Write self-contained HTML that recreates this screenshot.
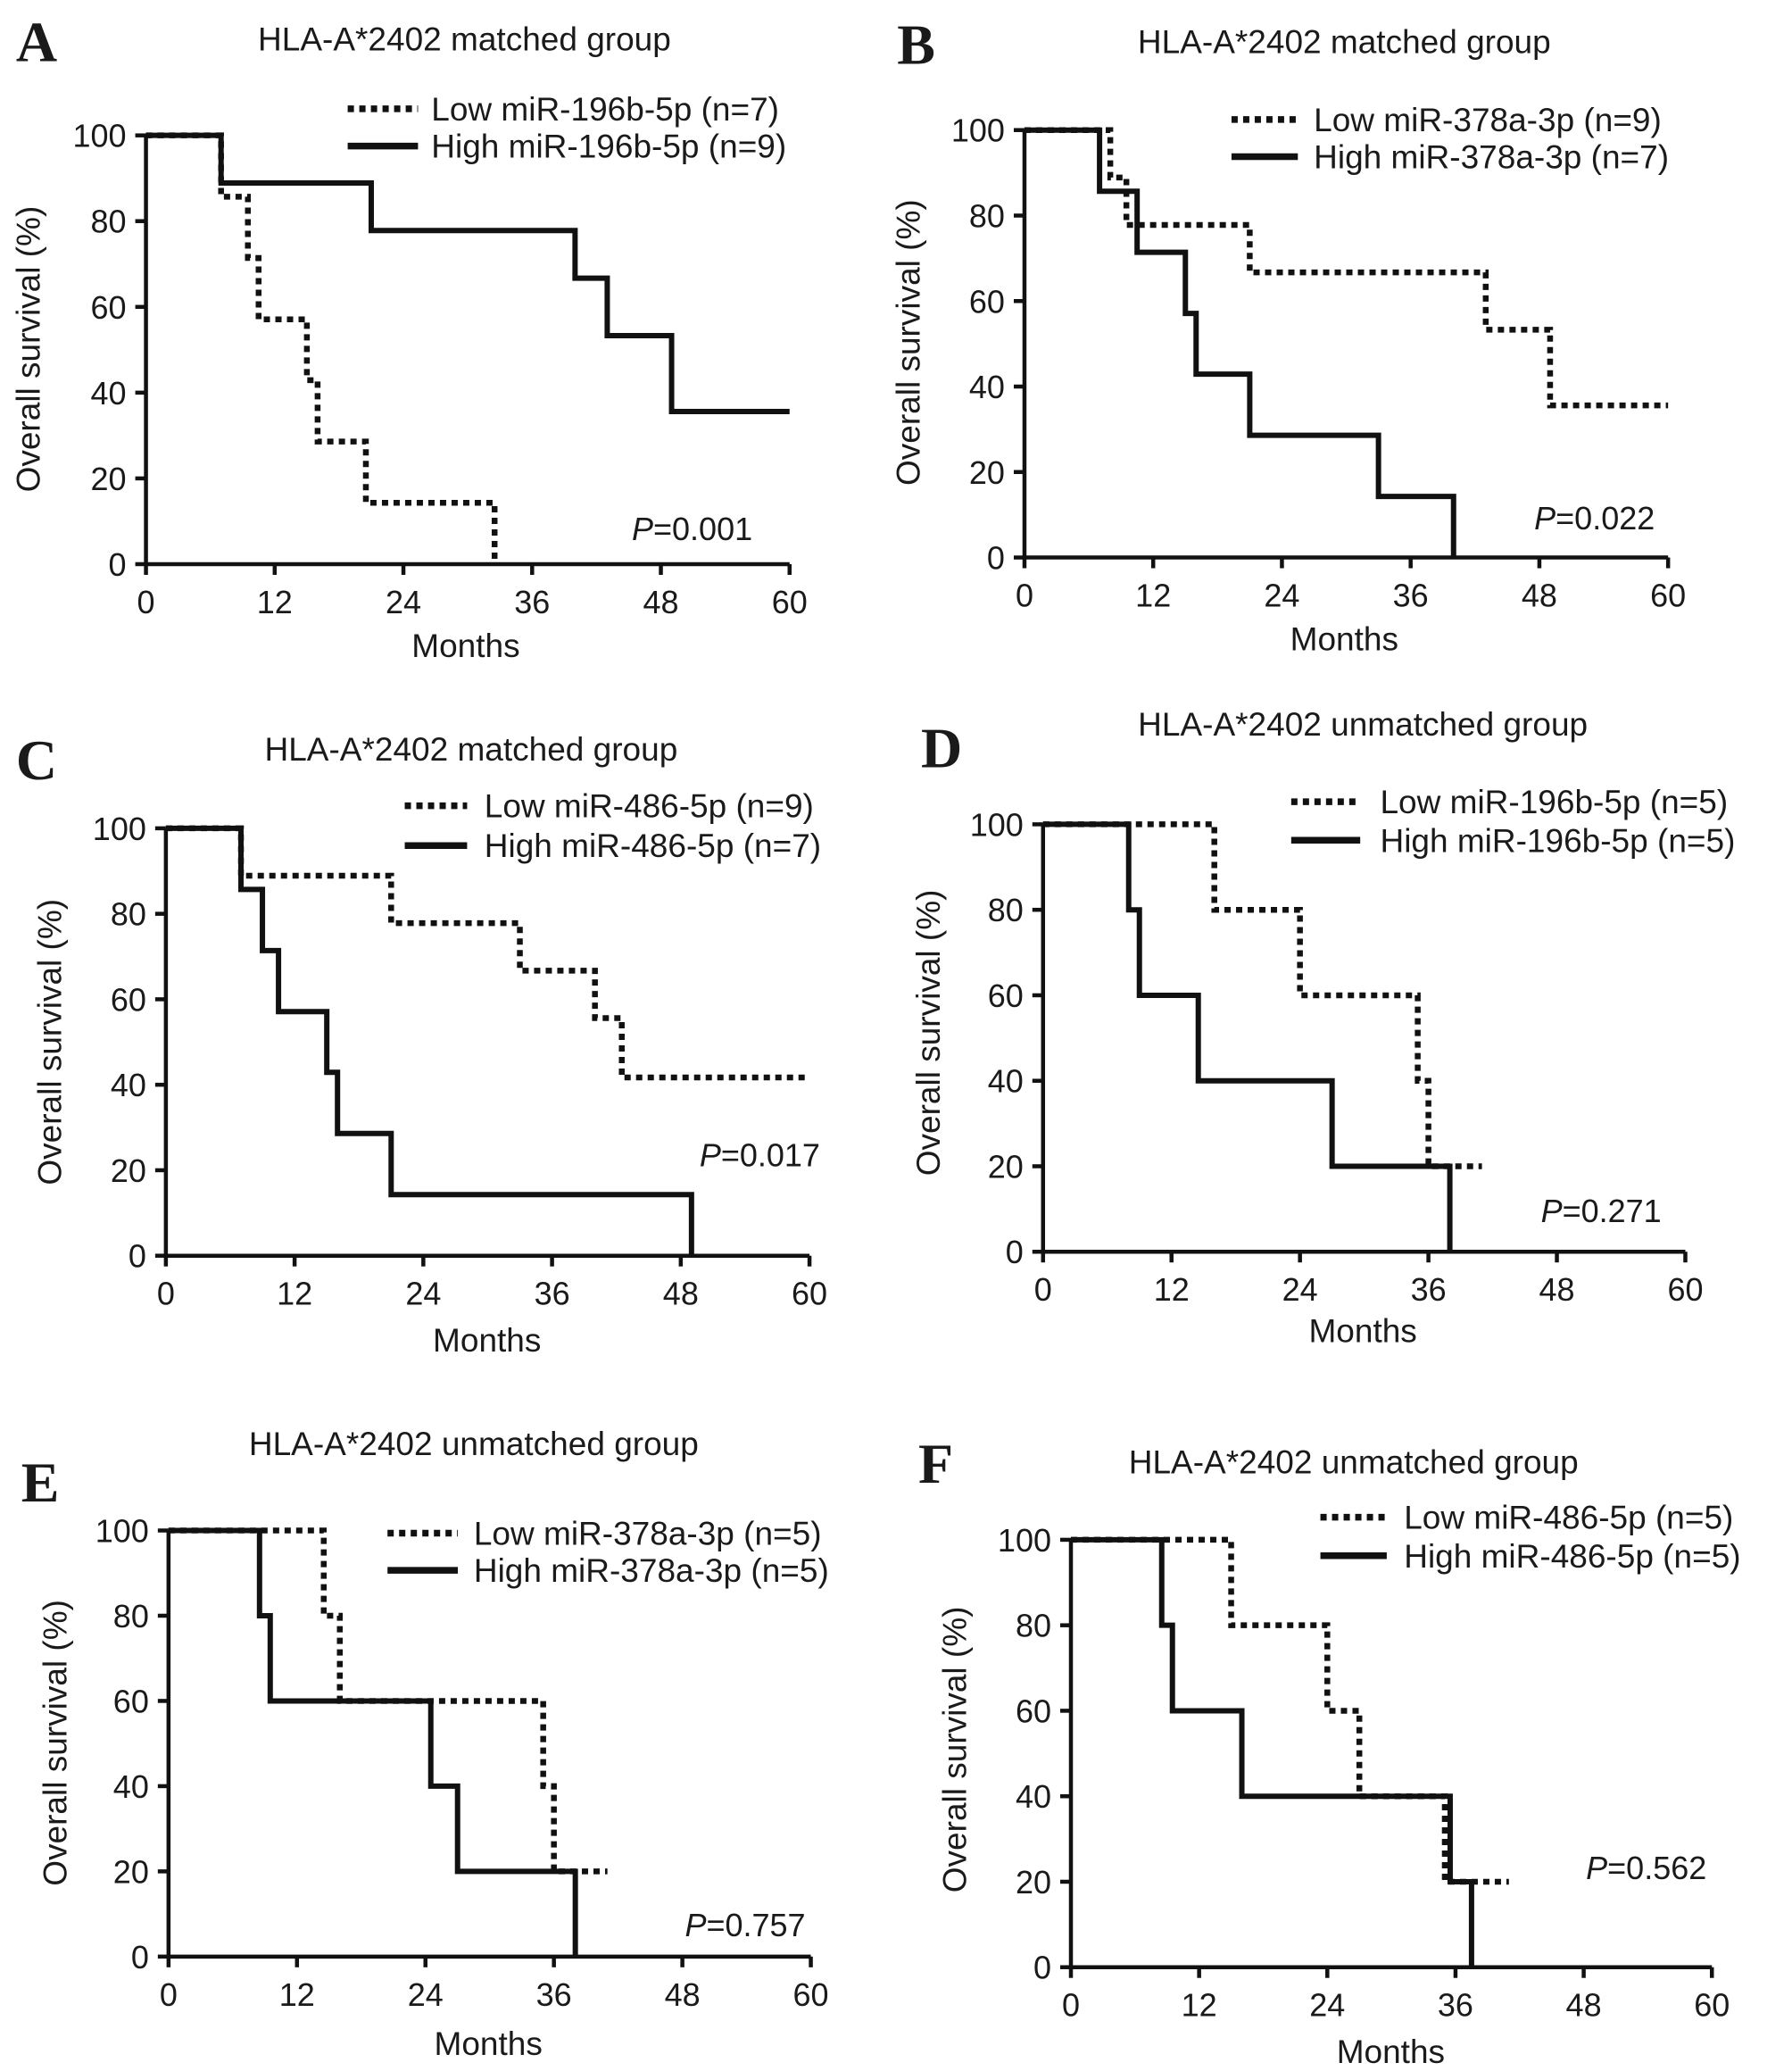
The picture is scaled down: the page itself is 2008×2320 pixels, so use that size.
<!DOCTYPE html>
<html><head><meta charset="utf-8"><style>
html,body{margin:0;padding:0;background:#fff;}
svg{display:block;}
text{font-family:"Liberation Sans",sans-serif;fill:#1a1a1a;}
.lt{font-family:"Liberation Serif",serif;font-weight:bold;font-size:64px;}
</style></head><body>
<svg id="fig" width="2008" height="2320" viewBox="0 0 2008 2320" xmlns="http://www.w3.org/2000/svg"></svg>
<script>
// ---- data (months, survival %) ----
const xTicks = [0, 12, 24, 36, 48, 60];
const yTicks = [0, 20, 40, 60, 80, 100];
const titles = ["HLA-A*2402 matched group","HLA-A*2402 matched group","HLA-A*2402 matched group","HLA-A*2402 unmatched group","HLA-A*2402 unmatched group","HLA-A*2402 unmatched group"];
const letters = ["A","B","C","D","E","F"];
const lowLabels = ["Low miR-196b-5p (n=7)","Low miR-378a-3p (n=9)","Low miR-486-5p (n=9)","Low miR-196b-5p (n=5)","Low miR-378a-3p (n=5)","Low miR-486-5p (n=5)"];
const highLabels = ["High miR-196b-5p (n=9)","High miR-378a-3p (n=7)","High miR-486-5p (n=7)","High miR-196b-5p (n=5)","High miR-378a-3p (n=5)","High miR-486-5p (n=5)"];
const pValues = ["0.001","0.022","0.017","0.271","0.757","0.562"];
// step curves: times at which survival drops, and survival after each drop
const lowTimesA = [7, 9.5, 10.5, 15, 16, 20.5, 32.5, 32.5];
const lowSurvA  = [85.7, 71.4, 57.1, 42.9, 28.6, 14.3, 0, 0];
const highTimesA = [7, 21, 40, 43, 49, 60];
const highSurvA  = [88.9, 77.8, 66.7, 53.3, 35.6, 35.6];
const lowTimesB = [8, 9.5, 21, 43, 49, 60];
const lowSurvB  = [88.9, 77.8, 66.7, 53.3, 35.6, 35.6];
const highTimesB = [7, 10.5, 15, 16, 21, 33, 40, 40];
const highSurvB  = [85.7, 71.4, 57.1, 42.9, 28.6, 14.3, 0, 0];
const lowTimesC = [7, 21, 33, 40, 42.5, 60];
const lowSurvC  = [88.9, 77.8, 66.7, 55.6, 41.7, 41.7];
const highTimesC = [7, 9, 10.5, 15, 16, 21, 49, 49];
const highSurvC  = [85.7, 71.4, 57.1, 42.9, 28.6, 14.3, 0, 0];
const lowTimesD = [16, 24, 35, 36, 41];
const lowSurvD  = [80, 60, 40, 20, 20];
const highTimesD = [8, 9, 14.5, 27, 38, 38];
const highSurvD  = [80, 60, 40, 20, 0, 0];
const lowTimesE = [14.5, 16, 35, 36, 41];
const lowSurvE  = [80, 60, 40, 20, 20];
const highTimesE = [8.5, 9.5, 24.5, 27, 38, 38];
const highSurvE  = [80, 60, 40, 20, 0, 0];
const lowTimesF = [15, 24, 27, 35, 41];
const lowSurvF  = [80, 60, 40, 20, 20];
const highTimesF = [8.5, 9.5, 16, 35.5, 37.5, 37.5];
const highSurvF  = [80, 60, 40, 20, 0, 0];
const lowTimes = [lowTimesA, lowTimesB, lowTimesC, lowTimesD, lowTimesE, lowTimesF];
const lowSurv = [lowSurvA, lowSurvB, lowSurvC, lowSurvD, lowSurvE, lowSurvF];
const highTimes = [highTimesA, highTimesB, highTimesC, highTimesD, highTimesE, highTimesF];
const highSurv = [highSurvA, highSurvB, highSurvC, highSurvD, highSurvE, highSurvF];

// ---- layout (overview coords, scaled by S) ----
const S = 1.487;
const L = [
 {x0:110,x1:595,y1:102,y0:425, title:[350,38], let:[12,46], leg:[262,315,325,82,110], p:[567,398], yt:[22,263], mo:[351,495]},
 {x0:772,x1:1257,y1:98,y0:420, title:[1013,40], let:[676,48], leg:[928,978,990,90,118], p:[1247,390], yt:[685,258], mo:[1013,490]},
 {x0:125,x1:610,y1:624,y0:946, title:[355,573], let:[12,587], leg:[305,352,365,607,637], p:[618,870], yt:[38,785], mo:[367,1018]},
 {x0:786,x1:1270,y1:621,y0:943, title:[1027,554], let:[694,578], leg:[973,1025,1040,604,633], p:[1252,912], yt:[700,778], mo:[1027,1011]},
 {x0:127,x1:611,y1:1153,y0:1474, title:[357,1096], let:[16,1131], leg:[292,345,357,1155,1183], p:[607,1450], yt:[42,1313], mo:[368,1548]},
 {x0:807,x1:1290,y1:1160,y0:1482, title:[1020,1110], let:[692,1117], leg:[995,1045,1058,1143,1172], p:[1286,1407], yt:[720,1318], mo:[1048,1554]}
];
const NS = "http://www.w3.org/2000/svg";
const svg = document.getElementById('fig');
function mk(tag, attrs, parent, txt){
  const e = document.createElementNS(NS, tag);
  for (const k in attrs) e.setAttribute(k, attrs[k]);
  if (txt !== undefined) e.textContent = txt;
  parent.appendChild(e);
  return e;
}
function stepPath(times, surv, xs, ys){
  let d = 'M' + xs(0) + ' ' + ys(100);
  for (let i = 0; i < times.length; i++){
    d += ' H' + xs(times[i]) + ' V' + ys(surv[i]);
  }
  return d;
}
L.forEach((c, i) => {
  const g = mk('g', {}, svg);
  
  
  const X0 = c.x0*S, X1 = c.x1*S, Y0 = c.y0*S, Y1 = c.y1*S;
  const xs = v => X0 + (X1 - X0) * v / 60;
  const ys = v => Y0 - (Y0 - Y1) * v / 100;
  const lt = mk('text', {x:c.let[0]*S, y:c.let[1]*S, class:'lt'}, g, letters[i]);
  
  
  const tt = mk('text', {x:c.title[0]*S, y:c.title[1]*S, 'text-anchor':'middle', 'font-size':37}, g, titles[i]);
  
  
  const ax = mk('path', {d:`M${X0} ${Y1} V${Y0} H${X1}`, stroke:'#111', 'stroke-width':4.5, fill:'none'}, g);
  
  
  xTicks.forEach(t => {
    mk('line', {x1:xs(t), x2:xs(t), y1:Y0, y2:Y0+12, stroke:'#111', 'stroke-width':4.5}, g);
    const tl = mk('text', {x:xs(t), y:Y0+55, 'text-anchor':'middle', 'font-size':36}, g, String(t));
    
    
  });
  yTicks.forEach(t => {
    mk('line', {x1:X0-12, x2:X0, y1:ys(t), y2:ys(t), stroke:'#111', 'stroke-width':4.5}, g);
    const tl = mk('text', {x:X0-22, y:ys(t)+13, 'text-anchor':'end', 'font-size':36}, g, String(t));
    
    
  });
  const yt = mk('text', {x:c.yt[0]*S, y:c.yt[1]*S, 'text-anchor':'middle', 'font-size':37, transform:`rotate(-90 ${c.yt[0]*S} ${c.yt[1]*S})`, dy:'12'}, g, 'Overall survival (%)');
  
  
  const mo = mk('text', {x:c.mo[0]*S, y:c.mo[1]*S, 'text-anchor':'middle', 'font-size':37}, g, 'Months');
  
  
  const hp = mk('path', {d:stepPath(highTimes[i], highSurv[i], xs, ys), stroke:'#111', 'stroke-width':6, fill:'none'}, g);
  
  
  const lp = mk('path', {d:stepPath(lowTimes[i], lowSurv[i], xs, ys), stroke:'#111', 'stroke-width':6.5, fill:'none', 'stroke-dasharray':'7 6'}, g);
  
  
  const lg = c.leg;
  const l1 = mk('line', {x1:lg[0]*S, x2:lg[1]*S, y1:lg[3]*S, y2:lg[3]*S, stroke:'#111', 'stroke-width':7.5, 'stroke-dasharray':'7 6'}, g);
  
  
  const t1 = mk('text', {x:lg[2]*S, y:lg[3]*S+13, 'font-size':37}, g, lowLabels[i]);
  
  
  const l2 = mk('line', {x1:lg[0]*S, x2:lg[1]*S, y1:lg[4]*S, y2:lg[4]*S, stroke:'#111', 'stroke-width':7.5}, g);
  
  
  const t2 = mk('text', {x:lg[2]*S, y:lg[4]*S+13, 'font-size':37}, g, highLabels[i]);
  
  
  const pt = mk('text', {x:c.p[0]*S, y:c.p[1]*S+13, 'text-anchor':'end', 'font-size':36}, g);
  
  
  mk('tspan', {'font-style':'italic'}, pt, 'P');
  mk('tspan', {}, pt, '=' + pValues[i]);
});
</script>
</body></html>
